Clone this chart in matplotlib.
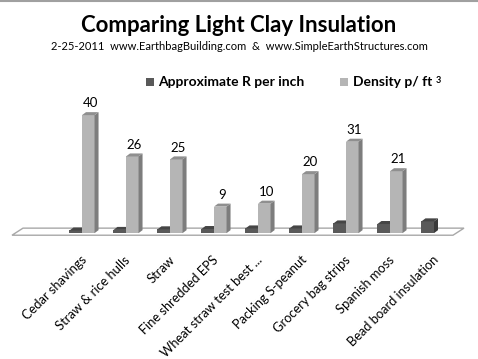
import matplotlib.pyplot as plt
from matplotlib.patches import Polygon, Rectangle

# data
categories = ['Cedar shavings', 'Straw & rice hulls', 'Straw', 'Fine shredded EPS',
              'Wheat straw test best ...', 'Packing S-peanut', 'Grocery bag strips',
              'Spanish moss', 'Bead board insulation']
r_per_inch = [0.9, 1.1, 1.3, 1.4, 1.6, 1.6, 3.3, 3.1, 4.0]
density = [40, 26, 25, 9, 10, 20, 31, 21, 0]

W, H = 478, 359
fig = plt.figure(figsize=(W / 100, H / 100), dpi=100)
plt.rcParams['font.family'] = ['Lato', 'DejaVu Sans']

# axes placed in pixel space of the picture
ax_l, ax_r = 5, 470
ax_t, ax_b = 103, 242
ax = fig.add_axes([ax_l / W, 1 - ax_b / H, (ax_r - ax_l) / W, (ax_b - ax_t) / H])
x0 = -(82 - ax_l) / 44.0
x1 = x0 + (ax_r - ax_l) / 44.0
ax.set_xlim(x0, x1)
ax.set_ylim(-3, -3 + (ax_b - ax_t) / 2.95)
ax.axis('off')

# depth of the fake 3d in data units
px_x = 1 / 44.0
px_y = 1 / 2.95
dx, dy = 4 * px_x, 3 * px_y
bw = 0.285

# floor
fl, fr = (12 - 82) * px_x, (453 - 82) * px_x
f_front, f_back = -0.7, 1.7
f_off = 11 * px_x
ax.add_patch(Polygon([(fl, f_front), (fr, f_front), (fr + f_off, f_back), (fl + f_off, f_back)],
                     closed=True, facecolor='white', edgecolor='#a8a8a8', lw=1.0, zorder=1))


def bar3d(x, h, front, side, top, z):
    if h <= 0:
        return
    ax.add_patch(Rectangle((x, 0), bw, h, facecolor=front, edgecolor='none', zorder=z))
    ax.add_patch(Polygon([(x + bw, 0), (x + bw + dx, dy), (x + bw + dx, h + dy), (x + bw, h)],
                         closed=True, facecolor=side, edgecolor='none', zorder=z))
    ax.add_patch(Polygon([(x, h), (x + bw, h), (x + bw + dx, h + dy), (x + dx, h + dy)],
                         closed=True, facecolor=top, edgecolor='none', zorder=z))


for i, (r, d) in enumerate(zip(r_per_inch, density)):
    bar3d(i - bw, r, '#595959', '#3a3a3a', '#454545', 2 + i * 2)
    bar3d(i, d, '#b5b5b5', '#7d7d7d', '#8f8f8f', 3 + i * 2)
    if d > 0:
        ax.text(i + bw / 2 + dx / 2, d + 4, str(d), ha='center', va='center', fontsize=9.5)
    ax.text(i - 0.04, -7.0, categories[i], rotation=45, rotation_mode='anchor',
            ha='right', va='top', fontsize=9.3)

# titles
fig.text(0.5, 1 - 25 / H, 'Comparing Light Clay Insulation', ha='center', va='center',
         fontsize=16, fontweight='bold')
fig.text(0.5, 1 - 47 / H, '2-25-2011  www.EarthbagBuilding.com  &  www.SimpleEarthStructures.com',
         ha='center', va='center', fontsize=8.0)

# legend
fig.patches.append(Rectangle((146 / W, 1 - 86 / H), 8 / W, 8 / H, transform=fig.transFigure,
                             facecolor='#595959', edgecolor='none'))
fig.text(158 / W, 1 - 82 / H, 'Approximate R per inch', ha='left', va='center',
         fontsize=10, fontweight='bold')
fig.patches.append(Rectangle((340 / W, 1 - 86 / H), 8 / W, 8 / H, transform=fig.transFigure,
                             facecolor='#b5b5b5', edgecolor='none'))
dens_txt = fig.text(353 / W, 1 - 82 / H, 'Density p/ ft', ha='left', va='center',
                    fontsize=10, fontweight='bold')
# superscript 3 placed right after the text
fig.add_artist(plt.Annotation('3', xy=(1, 1), xycoords=dens_txt, xytext=(2.5, 0),
                              textcoords='offset points', ha='left', va='top',
                              fontsize=6.5, fontweight='bold'))

# outer border line at top
fig.add_artist(plt.Line2D([0, 477 / W], [1 - 0.5 / H, 1 - 0.5 / H], transform=fig.transFigure,
                          color='#a0a0a0', lw=1.5))

fig.savefig('out.png', dpi=100)
